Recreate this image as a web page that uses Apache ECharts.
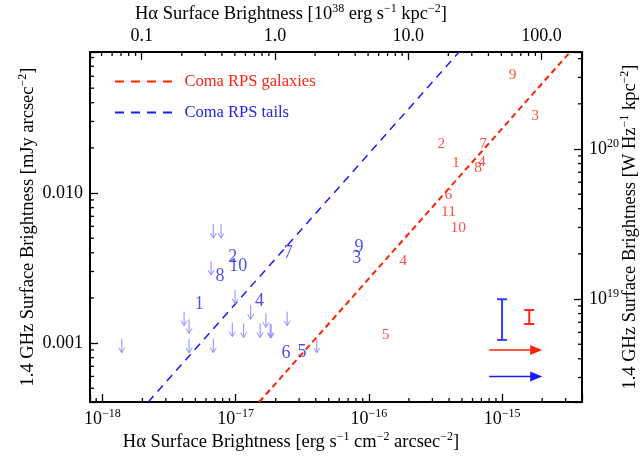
<!DOCTYPE html>
<html>
<head>
<meta charset="utf-8">
<script src="https://cdn.jsdelivr.net/npm/echarts@6/dist/echarts.min.js"></script>
<style>
  html, body { margin: 0; background: #fff; }
  #chart { width: 642px; height: 460px; }
</style>
</head>
<body>
<div id="chart"></div>
<script>
// Coma RPS galaxies (red numbers)
const galaxyIds = ['9', '3', '2', '7', '1', '4', '8', '6', '11', '10', '4', '5'];
const galaxyHa = [1.2e-15, 1.77e-15, 3.5e-16, 7.2e-16, 4.5e-16, 7.05e-16, 6.6e-16, 3.96e-16, 3.96e-16, 4.7e-16, 1.81e-16, 1.34e-16];
const galaxyRadio = [0.0612, 0.0326, 0.0212, 0.0211, 0.0158, 0.0162, 0.0148, 0.0097, 0.00744, 0.00584, 0.00352, 0.00113];

// Coma RPS tails (blue numbers)
const tailIds = ['2', '10', '8', '7', '9', '3', '1', '4', '6', '5'];
const tailHa = [9.53e-18, 1.05e-17, 7.65e-18, 2.49e-17, 8.46e-17, 8.13e-17, 5.35e-18, 1.51e-17, 2.39e-17, 3.16e-17];
const tailRadio = [0.00376, 0.00323, 0.0028, 0.00396, 0.00438, 0.00367, 0.00181, 0.00191, 0.000862, 0.000875];

// upper limits (down arrows)
const limitHa = [6.81e-18, 7.79e-18, 6.55e-18, 9.92e-18, 1.30e-17, 4.11e-18, 4.48e-18, 9.46e-18, 1.15e-17, 1.53e-17, 1.69e-17, 1.82e-17, 1.85e-17, 2.44e-17, 1.40e-18, 4.48e-18, 6.81e-18, 4.07e-17];
const limitRadio = [0.00621, 0.00621, 0.00352, 0.00226, 0.00179, 0.00162, 0.00144, 0.00137, 0.00135, 0.00135, 0.00158, 0.00135, 0.00134, 0.00162, 0.00107, 0.00107, 0.00107, 0.00107];

// fitted relations (end points)
const galaxyFit = [[1.506e-17, 4.05e-4], [3.238e-15, 0.0871]];
const tailFit = [[2.213e-18, 4.05e-4], [4.76e-16, 0.0871]];

// typical error bars [Ha, radio low, radio high] and shift arrows [Ha from, radio, Ha to]
const tailErr = [1.0e-15, 0.00105, 0.00196];
const galaxyErr = [1.6e-15, 0.00134, 0.00166];
const galaxyShift = [8.0e-16, 9.0e-4, 2.0e-15];
const tailShift = [8.0e-16, 6.0e-4, 2.0e-15];

// axis ranges
const haMin = 8.09e-19, haMax = 3.98e-15;
const lumMin = 0.04094, lumMax = 201.4;
const radioMin = 4.05e-4, radioMax = 0.0871;
const powMin = 2.06e18, powMax = 4.43e20;

const RED = '#ff2414', BLUE = '#2424ec', LIMIT = '#8c8cff';
const FONT = 'Liberation Serif';
const DASHES = 'path://M0,0H9V2H0Z M16,0H25V2H16Z M32,0H41V2H32Z M48,0H57V2H48Z';

const isDecade = v => Math.abs(Math.log10(v) - Math.round(Math.log10(v))) < 1e-6;
const rich = {
  b: {fontFamily: FONT, fontSize: 18, color: '#000', lineHeight: 22},
  s: {fontFamily: FONT, fontSize: 12, color: '#000', lineHeight: 22, verticalAlign: 'top'}
};
const nameRich = {
  b: {fontFamily: FONT, fontSize: 18.5},
  s: {fontFamily: FONT, fontSize: 12, verticalAlign: 'top', lineHeight: 22}
};

// minor ticks at 2..9 x 10^n
function minorValues(min, max) {
  const out = [];
  for (let d = Math.floor(Math.log10(min)); d <= Math.ceil(Math.log10(max)); d++) {
    for (let m = 2; m <= 9; m++) {
      const v = m * Math.pow(10, d);
      if (v > min && v < max) out.push(v);
    }
  }
  return out;
}

function tickSeries(xi, yi, data, dx, dy) {
  return {
    type: 'custom', xAxisIndex: xi, yAxisIndex: yi, silent: true, z: 5, data,
    renderItem: (params, api) => {
      const p = api.coord([api.value(0), api.value(1)]);
      return {type: 'line', shape: {x1: p[0], y1: p[1], x2: p[0] + dx, y2: p[1] + dy},
        style: {stroke: '#000', lineWidth: 1.3}};
    }
  };
}

function labelSeries(ids, xs, ys, color, size) {
  return {
    type: 'scatter', symbolSize: 0, silent: true, z: 4,
    data: ids.map((id, i) => ({name: id, value: [xs[i], ys[i]]})),
    label: {show: true, position: 'inside', formatter: '{b}', color, fontFamily: FONT, fontSize: size}
  };
}

const chart = echarts.init(document.getElementById('chart'));
chart.setOption({
  animation: false,
  grid: {left: 90, right: 60, top: 52, bottom: 58, containLabel: false, outerBoundsMode: 'none'},
  legend: {
    left: 110, top: 68, orient: 'vertical', itemWidth: 62, itemHeight: 2, itemGap: 14,
    textStyle: {fontFamily: FONT, fontSize: 16.5, padding: [0, 0, 0, 5]},
    data: [
      {name: 'Coma RPS galaxies', icon: DASHES, textStyle: {color: RED}},
      {name: 'Coma RPS tails', icon: DASHES, textStyle: {color: BLUE}}
    ]
  },
  xAxis: [{
    type: 'log', position: 'bottom', min: haMin, max: haMax,
    axisLine: {lineStyle: {color: '#000', width: 2}},
    axisTick: {inside: true, length: 8, lineStyle: {color: '#000', width: 1.3}},
    splitLine: {show: false},
    axisLabel: {
      interval: 0, margin: 6, rich,
      formatter: v => isDecade(v) ? '{b|10}{s|−' + (-Math.round(Math.log10(v))) + '}' : ''
    },
    name: 'H{b|α} Surface Brightness [erg s{s|−1} cm{s|−2} arcsec{s|−2}]',
    nameLocation: 'middle', nameGap: 29, nameMoveOverlap: false,
    nameTextStyle: {fontFamily: FONT, fontSize: 18.5, color: '#000', padding: [0, 90, 0, 0], rich: nameRich}
  }, {
    type: 'log', position: 'top', min: lumMin, max: lumMax,
    axisLine: {lineStyle: {color: '#000', width: 2}},
    axisTick: {inside: true, length: 8, lineStyle: {color: '#000', width: 1.3}},
    splitLine: {show: false},
    axisLabel: {
      interval: 0, margin: 7, fontFamily: FONT, fontSize: 18, color: '#000',
      formatter: v => isDecade(v) ? v.toFixed(1) : ''
    },
    name: 'H{b|α} Surface Brightness [10{s|38} erg s{s|−1} kpc{s|−2}]',
    nameLocation: 'middle', nameGap: 27, nameMoveOverlap: false,
    nameTextStyle: {fontFamily: FONT, fontSize: 18.5, color: '#000', padding: [0, 90, 0, 0], rich: nameRich}
  }],
  yAxis: [{
    type: 'log', position: 'left', min: radioMin, max: radioMax,
    axisLine: {lineStyle: {color: '#000', width: 2}},
    axisTick: {inside: true, length: 8, lineStyle: {color: '#000', width: 1.3}},
    splitLine: {show: false},
    axisLabel: {
      interval: 0, margin: 7, fontFamily: FONT, fontSize: 18, color: '#000',
      formatter: v => isDecade(v) ? v.toFixed(3) : ''
    },
    name: '1.4 GHz Surface Brightness [mJy arcsec{s|−2}]',
    nameLocation: 'middle', nameGap: 51, nameMoveOverlap: false,
    nameTextStyle: {fontFamily: FONT, fontSize: 18.5, color: '#000', rich: nameRich}
  }, {
    type: 'log', position: 'right', min: powMin, max: powMax,
    axisLine: {lineStyle: {color: '#000', width: 2}},
    axisTick: {inside: true, length: 8, lineStyle: {color: '#000', width: 1.3}},
    splitLine: {show: false},
    axisLabel: {
      interval: 0, margin: 7, rich,
      formatter: v => isDecade(v) ? '{b|10}{s|' + Math.round(Math.log10(v)) + '}' : ''
    },
    name: '1.4 GHz Surface Brightness [W Hz{s|−1} kpc{s|−2}]',
    nameLocation: 'middle', nameGap: 37, nameMoveOverlap: false,
    nameTextStyle: {fontFamily: FONT, fontSize: 18.5, color: '#000', rich: nameRich}
  }],
  series: [
    {
      name: 'Coma RPS galaxies', type: 'line', symbol: 'none', silent: true, z: 3,
      data: galaxyFit, lineStyle: {color: '#ff2200', width: 2, type: [6, 4]}, itemStyle: {color: '#ff2200'}
    },
    {
      name: 'Coma RPS tails', type: 'line', symbol: 'none', silent: true, z: 3,
      data: tailFit, lineStyle: {color: '#1a1aff', width: 1.5, type: [8, 6]}, itemStyle: {color: '#1a1aff'}
    },
    labelSeries(galaxyIds, galaxyHa, galaxyRadio, RED, 15.5),
    labelSeries(tailIds, tailHa, tailRadio, BLUE, 18),
    {
      type: 'custom', silent: true, z: 4,
      data: limitHa.map((x, i) => [x, limitRadio[i]]),
      renderItem: (params, api) => {
        const p = api.coord([api.value(0), api.value(1)]);
        const st = {stroke: LIMIT, lineWidth: 1, fill: null};
        return {type: 'group', children: [
          {type: 'line', shape: {x1: p[0], y1: p[1], x2: p[0], y2: p[1] + 14}, style: st},
          {type: 'polyline', shape: {points: [[p[0] - 3, p[1] + 9], [p[0], p[1] + 14], [p[0] + 3, p[1] + 9]]}, style: st}
        ]};
      }
    },
    {
      type: 'custom', silent: true, z: 4,
      data: [tailErr.concat([0]), galaxyErr.concat([1])],
      encode: {x: 0, y: 1},
      renderItem: (params, api) => {
        const lo = api.coord([api.value(0), api.value(1)]);
        const hi = api.coord([api.value(0), api.value(2)]);
        const c = api.value(3) ? RED : '#3a3aff';
        const st = {stroke: c, lineWidth: 2};
        return {type: 'group', children: [
          {type: 'line', shape: {x1: lo[0], y1: lo[1], x2: hi[0], y2: hi[1]}, style: st},
          {type: 'line', shape: {x1: lo[0] - 5, y1: lo[1], x2: lo[0] + 5, y2: lo[1]}, style: st},
          {type: 'line', shape: {x1: hi[0] - 5, y1: hi[1], x2: hi[0] + 5, y2: hi[1]}, style: st}
        ]};
      }
    },
    {
      type: 'custom', silent: true, z: 4,
      data: [galaxyShift.concat([1]), tailShift.concat([0])],
      encode: {x: 0, y: 1},
      renderItem: (params, api) => {
        const a = api.coord([api.value(0), api.value(1)]);
        const b = api.coord([api.value(2), api.value(1)]);
        const c = api.value(3) ? '#ff2200' : '#1a1aff';
        return {type: 'group', children: [
          {type: 'line', shape: {x1: a[0], y1: a[1], x2: b[0] - 10, y2: b[1]}, style: {stroke: c, lineWidth: 1.5}},
          {type: 'polygon', shape: {points: [[b[0] - 12, b[1] - 5], [b[0], b[1]], [b[0] - 12, b[1] + 5]]}, style: {fill: c}}
        ]};
      }
    },
    tickSeries(0, 0, minorValues(haMin, haMax).map(v => [v, radioMin]), 0, -4),
    tickSeries(1, 0, minorValues(lumMin, lumMax).map(v => [v, radioMax]), 0, 4),
    tickSeries(0, 0, minorValues(radioMin, radioMax).map(v => [haMin, v]), 4, 0),
    tickSeries(0, 1, minorValues(powMin, powMax).map(v => [haMax, v]), -4, 0)
  ]
});
</script>
</body>
</html>
